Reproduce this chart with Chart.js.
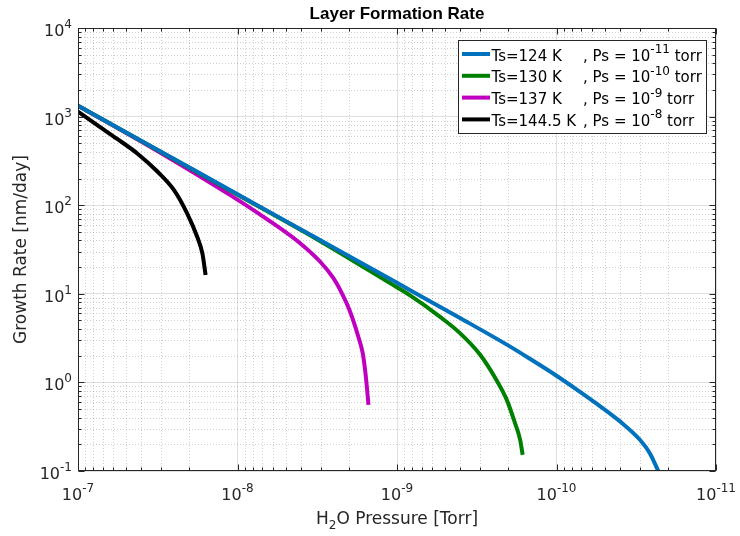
<!DOCTYPE html>
<html><head><meta charset="utf-8">
<script src="https://cdn.jsdelivr.net/npm/chart.js@4.4.0/dist/chart.umd.min.js"></script>
<style>html,body{margin:0;padding:0;background:#fff;}#wrap{width:740px;height:536px;}</style>
</head><body><div id="wrap"><canvas id="c" width="740" height="536"></canvas></div>
<script>
// ---- data ----
const chartTitle = 'Layer Formation Rate';
const yAxisLabel = 'Growth Rate [nm/day]';
const seriesNames = ['Ts=124 K', 'Ts=130 K', 'Ts=137 K', 'Ts=144.5 K'];
const psExponents = ['-11', '-10', '-9', '-8'];
const seriesColors = ['#0072BD', '#008000', '#BF00BF', '#000000'];

const bluePressure = [1e-7, 3.16e-8, 1e-8, 3.16e-9, 1e-9, 4.0e-10, 2.0e-10, 1.47e-10, 1e-10, 7.5e-11, 5.6e-11, 4.0e-11, 3.0e-11, 2.6e-11, 2.3e-11];
const blueRate     = [1330, 420, 133, 42, 13.3, 5.3, 2.6, 1.85, 1.19, 0.836, 0.575, 0.363, 0.225, 0.159, 0.1];

const greenPressure = [1e-7, 3.16e-8, 1e-8, 3.16e-9, 1.1e-9, 8.28e-10, 5.37e-10, 4.03e-10, 3.01e-10, 2.37e-10, 2.05e-10, 1.82e-10, 1.69e-10, 1.63e-10];
const greenRate     = [1330, 418, 131, 41, 13.1, 9.6, 5.5, 3.6, 2.05, 1.05, 0.635, 0.347, 0.225, 0.152];

const magentaPressure = [1e-7, 3.16e-8, 1.11e-8, 6.87e-9, 4.25e-9, 3.03e-9, 2.51e-9, 2.28e-9, 1.97e-9, 1.75e-9, 1.64e-9, 1.585e-9, 1.545e-9, 1.51e-9];
const magentaRate     = [1330, 407, 130, 74, 40, 23, 15.1, 11.2, 6.3, 3.3, 2.14, 1.38, 0.89, 0.557];

const blackPressure = [1e-7, 7.57e-8, 5.68e-8, 4.25e-8, 3.18e-8, 2.50e-8, 2.07e-8, 1.79e-8, 1.66e-8, 1.585e-8];
const blackRate     = [1140, 800, 560, 384, 240, 148, 81, 44, 28.6, 16.3];

const xTicks = [1e-7, 1e-8, 1e-9, 1e-10, 1e-11];
const xTickExponents = ['-7', '-8', '-9', '-10', '-11'];
const yTicks = [0.1, 1, 10, 100, 1000, 10000];
const yTickExponents = ['-1', '0', '1', '2', '3', '4'];

// ---- build ----
const pressures = [bluePressure, greenPressure, magentaPressure, blackPressure];
const rates = [blueRate, greenRate, magentaRate, blackRate];
const datasets = pressures.map((ps, s) => ({
  label: seriesNames[s],
  data: ps.map((p, i) => ({x: p, y: rates[s][i]})),
  borderColor: seriesColors[s],
  backgroundColor: seriesColors[s],
  borderWidth: 4,
  showLine: true,
  pointRadius: 0,
  fill: false,
  cubicInterpolationMode: 'monotone'
}));

const FONT = '"DejaVu Sans", sans-serif';
const AX = '#262626';

function minorValues(ticks) {
  const lo = Math.min(...ticks), hi = Math.max(...ticks);
  const out = [];
  for (let d = lo; d < hi * 0.999; d *= 10) for (let k = 2; k <= 9; k++) out.push(k * d);
  return out;
}

function drawPow(ctx, exp, x, baseY, supY, align) {
  ctx.font = '16px ' + FONT;
  const wb = ctx.measureText('10').width;
  ctx.font = '12px ' + FONT;
  const we = ctx.measureText(exp).width;
  const start = align === 'right' ? x - wb - we : x - (wb + we) / 2;
  ctx.textAlign = 'left';
  ctx.textBaseline = 'alphabetic';
  ctx.font = '16px ' + FONT;
  ctx.fillText('10', start, baseY);
  ctx.font = '12px ' + FONT;
  ctx.fillText(exp, start + wb, supY);
}

const overlay = {
  id: 'overlay',
  beforeDatasetsDraw(chart) {
    const {ctx, chartArea: a, scales: {x, y}} = chart;
    ctx.save();
    ctx.strokeStyle = 'rgba(38,38,38,0.22)';
    ctx.lineWidth = 1;
    ctx.setLineDash([1, 2]);
    ctx.beginPath();
    minorValues(xTicks).forEach(v => {
      const p = Math.round(x.getPixelForValue(v)) + 0.5;
      ctx.moveTo(p, a.top); ctx.lineTo(p, a.bottom);
    });
    minorValues(yTicks).forEach(v => {
      const p = Math.round(y.getPixelForValue(v)) + 0.5;
      ctx.moveTo(a.left, p); ctx.lineTo(a.right, p);
    });
    ctx.stroke();
    ctx.restore();
  },
  afterDraw(chart) {
    const {ctx, chartArea: a, scales: {x, y}} = chart;
    ctx.save();
    // box
    ctx.strokeStyle = AX; ctx.lineWidth = 1; ctx.setLineDash([]);
    const L = Math.round(a.left) + 0.5, R = Math.round(a.right) - 0.5;
    const T = Math.round(a.top) + 0.5, B = Math.round(a.bottom) - 0.5;
    ctx.strokeRect(L, T, R - L, B - T);
    // ticks
    ctx.beginPath();
    const xt = (v, len) => { const p = Math.round(x.getPixelForValue(v)) + 0.5; ctx.moveTo(p, B); ctx.lineTo(p, B - len); ctx.moveTo(p, T); ctx.lineTo(p, T + len); };
    const yt = (v, len) => { const p = Math.round(y.getPixelForValue(v)) + 0.5; ctx.moveTo(L, p); ctx.lineTo(L + len, p); ctx.moveTo(R, p); ctx.lineTo(R - len, p); };
    xTicks.forEach(v => xt(v, 6)); minorValues(xTicks).forEach(v => xt(v, 3));
    yTicks.forEach(v => yt(v, 6)); minorValues(yTicks).forEach(v => yt(v, 3));
    ctx.stroke();
    // tick labels
    ctx.fillStyle = AX;
    xTicks.forEach((v, i) => drawPow(ctx, xTickExponents[i], x.getPixelForValue(v), 500, 492, 'center'));
    yTicks.forEach((v, i) => { const p = y.getPixelForValue(v); drawPow(ctx, yTickExponents[i], 72, p + 8, p, 'right'); });
    // x label with subscript
    const cx = (a.left + a.right) / 2;
    ctx.font = '17px ' + FONT; const wH = ctx.measureText('H').width; const wRest = ctx.measureText('O Pressure [Torr]').width;
    ctx.font = '12px ' + FONT; const w2 = ctx.measureText('2').width;
    let sx = cx - (wH + w2 + wRest) / 2;
    ctx.textAlign = 'left'; ctx.textBaseline = 'alphabetic';
    ctx.font = '17px ' + FONT; ctx.fillText('H', sx, 524);
    ctx.font = '12px ' + FONT; ctx.fillText('2', sx + wH, 529);
    ctx.font = '17px ' + FONT; ctx.fillText('O Pressure [Torr]', sx + wH + w2, 524);
    // y label
    ctx.save();
    ctx.translate(26, (a.top + a.bottom) / 2);
    ctx.rotate(-Math.PI / 2);
    ctx.textAlign = 'center'; ctx.textBaseline = 'alphabetic';
    ctx.font = '17px ' + FONT;
    ctx.fillText(yAxisLabel, 0, 0);
    ctx.restore();
    // title
    ctx.fillStyle = '#000';
    ctx.font = 'bold 17px "Liberation Sans", Arial, sans-serif';
    ctx.textAlign = 'center'; ctx.textBaseline = 'alphabetic';
    ctx.fillText(chartTitle, cx, 19);
    // legend
    const lx = 458, ly = 40, lw = 248, lh = 93;
    ctx.fillStyle = '#fff'; ctx.fillRect(lx, ly, lw, lh);
    ctx.strokeStyle = AX; ctx.lineWidth = 1; ctx.strokeRect(lx + 0.5, ly + 0.5, lw, lh);
    seriesNames.forEach((name, i) => {
      const ry = 54 + i * 21.8;
      ctx.strokeStyle = seriesColors[i]; ctx.lineWidth = 4;
      ctx.beginPath(); ctx.moveTo(462, ry); ctx.lineTo(490, ry); ctx.stroke();
      ctx.fillStyle = '#000'; ctx.textAlign = 'left'; ctx.textBaseline = 'alphabetic';
      ctx.font = '15px ' + FONT;
      ctx.fillText(name, 491.5, ry + 6.5);
      const s1 = ', Ps = 10';
      ctx.fillText(s1, 583, ry + 6.5);
      const w1 = ctx.measureText(s1).width;
      ctx.font = '12px ' + FONT;
      ctx.fillText(psExponents[i], 583 + w1, ry - 1);
      const we = ctx.measureText(psExponents[i]).width;
      ctx.font = '15px ' + FONT;
      ctx.fillText(' torr', 583 + w1 + we, ry + 6.5);
    });
    ctx.restore();
  }
};

new Chart(document.getElementById('c'), {
  type: 'scatter',
  data: {datasets},
  options: {
    responsive: false,
    animation: false,
    devicePixelRatio: 1,
    layout: {padding: {left: 78, right: 24, top: 28, bottom: 65}},
    plugins: {legend: {display: false}, title: {display: false}, tooltip: {enabled: false}},
    elements: {line: {borderJoinStyle: 'round'}},
    scales: {
      x: {
        type: 'logarithmic', reverse: true, min: 1e-11, max: 1e-7,
        afterBuildTicks: s => { s.ticks = xTicks.map(v => ({value: v, major: true})); },
        afterFit: s => { s.height = 0; },
        ticks: {display: false},
        grid: {color: 'rgba(38,38,38,0.15)', lineWidth: 1, drawTicks: false},
        border: {display: false}
      },
      y: {
        type: 'logarithmic', min: 0.1, max: 10000,
        afterBuildTicks: s => { s.ticks = yTicks.map(v => ({value: v, major: true})); },
        afterFit: s => { s.width = 0; },
        ticks: {display: false},
        grid: {color: 'rgba(38,38,38,0.15)', lineWidth: 1, drawTicks: false},
        border: {display: false}
      }
    }
  },
  plugins: [overlay]
});
</script>
</body></html>
